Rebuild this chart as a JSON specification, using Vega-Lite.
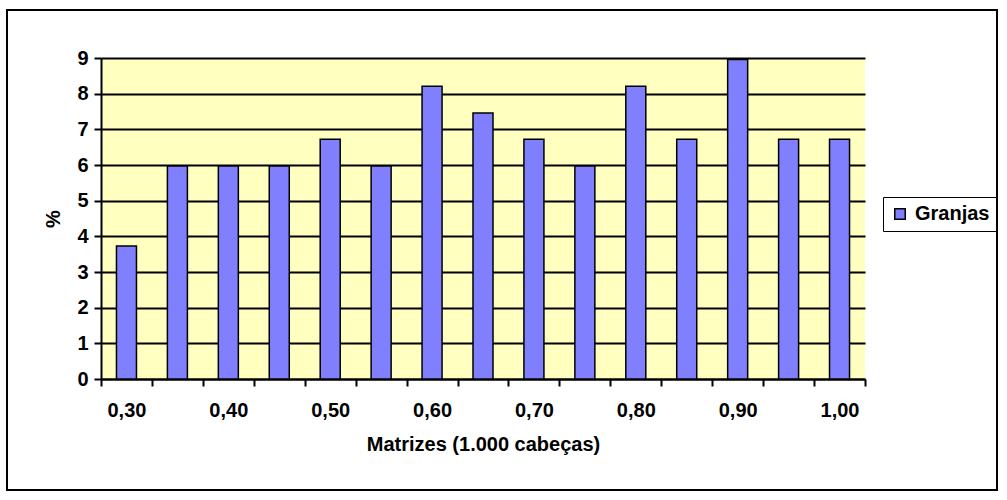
{
  "$schema": "https://vega.github.io/schema/vega-lite/v6.json",
  "autosize": "none",
  "width": 764,
  "height": 321,
  "padding": {"left": 101, "top": 58, "right": 142, "bottom": 121},
  "background": "white",
  "config": {
    "view": {"stroke": null, "fill": "#FFFFC0"},
    "font": "Liberation Sans",
    "axis": {"labelFont": "Liberation Sans", "titleFont": "Liberation Sans", "labelFontWeight": "bold", "titleFontWeight": "bold", "labelColor": "black", "titleColor": "black", "labelFontSize": 20, "titleFontSize": 20}
  },
  "data": {"values": [
    {"matrizes": 0.30, "pct": 3.73},
    {"matrizes": 0.35, "pct": 5.97},
    {"matrizes": 0.40, "pct": 5.97},
    {"matrizes": 0.45, "pct": 5.97},
    {"matrizes": 0.50, "pct": 6.72},
    {"matrizes": 0.55, "pct": 5.97},
    {"matrizes": 0.60, "pct": 8.21},
    {"matrizes": 0.65, "pct": 7.46},
    {"matrizes": 0.70, "pct": 6.72},
    {"matrizes": 0.75, "pct": 5.97},
    {"matrizes": 0.80, "pct": 8.21},
    {"matrizes": 0.85, "pct": 6.72},
    {"matrizes": 0.90, "pct": 8.96},
    {"matrizes": 0.95, "pct": 6.72},
    {"matrizes": 1.00, "pct": 6.72}
  ]},
  "layer": [
    {
      "data": {"values": [{"frame": "chart"}]},
      "mark": {"type": "rect", "fill": null, "stroke": "black", "strokeWidth": 2, "clip": false},
      "encoding": {
        "x": {"value": -94},
        "x2": {"value": 896},
        "y": {"value": -48},
        "y2": {"value": 432}
      }
    },
    {
      "mark": {"type": "bar", "orient": "vertical", "width": 20, "opacity": 0},
      "encoding": {
        "x": {"field": "matrizes", "type": "quantitative",
          "scale": {"domain": [0.275, 1.025], "nice": false, "zero": false, "padding": 0},
          "axis": {"orient": "bottom", "values": [0.275, 0.325, 0.375, 0.425, 0.475, 0.525, 0.575, 0.625, 0.675, 0.725, 0.775, 0.825, 0.875, 0.925, 0.975, 1.025], "labels": false, "domain": false, "grid": false, "ticks": true, "tickSize": 7, "tickWidth": 2, "tickColor": "black", "title": null}},
        "y": {"field": "pct", "type": "quantitative",
          "scale": {"domain": [0, 9], "nice": false},
          "axis": {"values": [0,1,2,3,4,5,6,7,8,9], "labelOverlap": false, "grid": true, "gridColor": "black", "gridWidth": 2, "gridOpacity": 1, "domain": true, "domainColor": "black", "domainWidth": 2, "ticks": true, "tickSize": 7, "tickWidth": 2, "tickColor": "black", "labelPadding": 6, "title": "%", "titlePadding": 13}}
      }
    },
    {
      "mark": {"type": "bar", "orient": "vertical", "width": 20, "stroke": "black", "strokeWidth": 1.5},
      "encoding": {
        "x": {"field": "matrizes", "type": "quantitative",
          "axis": {"orient": "bottom", "values": [0.3, 0.4, 0.5, 0.6, 0.7, 0.8, 0.9, 1.0], "labelExpr": "replace(format(datum.value, '.2f'), '.', ',')", "grid": false, "ticks": false, "domain": true, "domainColor": "black", "domainWidth": 2, "labelPadding": 21, "labelFlush": false, "labelOverlap": false, "title": "Matrizes (1.000 cabeças)", "titlePadding": 14}},
        "y": {"field": "pct", "type": "quantitative",
          "axis": {"values": [0,1,2,3,4,5,6,7,8,9], "labelOverlap": false, "grid": true, "gridColor": "black", "gridWidth": 2, "gridOpacity": 1, "domain": true, "domainColor": "black", "domainWidth": 2, "ticks": true, "tickSize": 7, "tickWidth": 2, "tickColor": "black", "labelPadding": 6, "title": "%", "titlePadding": 13}},
        "color": {"datum": "Granjas", "type": "nominal",
          "scale": {"range": ["#8080FF"]},
          "legend": {"orient": "none", "legendX": 782, "legendY": 139, "title": null, "strokeColor": "black", "padding": 7, "symbolType": "square", "symbolSize": 110, "symbolStrokeColor": "black", "symbolStrokeWidth": 1.5, "symbolOpacity": 1, "labelFont": "Liberation Sans", "labelFontWeight": "bold", "labelFontSize": 20, "labelColor": "black", "labelOffset": 5}}
      }
    }
  ],
  "resolve": {"axis": {"x": "independent"}}
}
